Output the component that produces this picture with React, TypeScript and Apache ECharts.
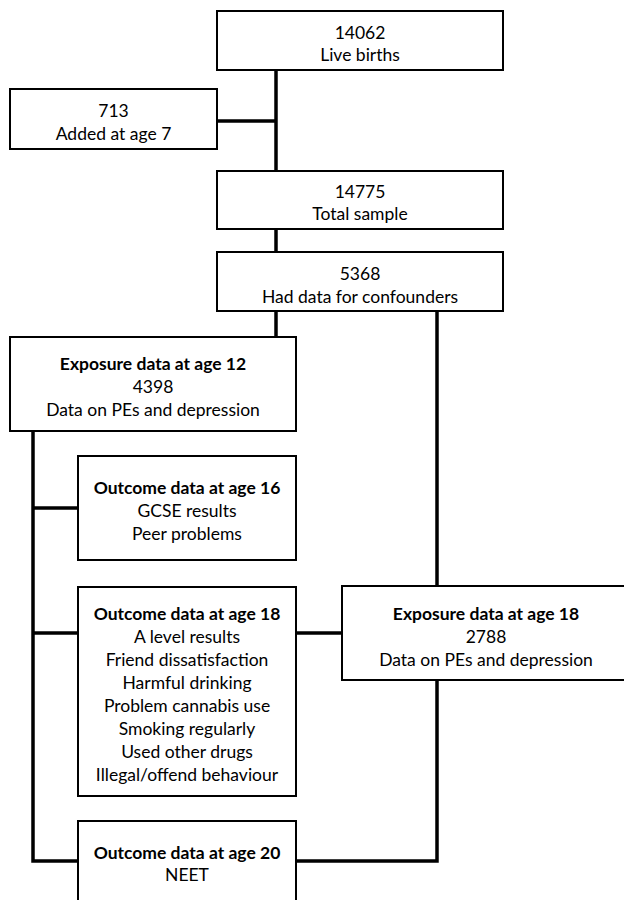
import React, { useEffect, useRef } from "react";
import * as echarts from "echarts";

// ---- data ----
const liveBirths = 14062;
const addedAge7 = 713;
const totalSample = 14775;
const confounders = 5368;
const exposure12 = 4398;
const exposure18 = 2788;

const boxATexts = [String(liveBirths), "Live births"];
const boxBTexts = [String(addedAge7), "Added at age 7"];
const boxCTexts = [String(totalSample), "Total sample"];
const boxDTexts = [String(confounders), "Had data for confounders"];
const boxETexts = ["Exposure data at age 12", String(exposure12), "Data on PEs and depression"];
const boxFTexts = ["Outcome data at age 16", "GCSE results", "Peer problems"];
const boxGTexts = [
  "Outcome data at age 18",
  "A level results",
  "Friend dissatisfaction",
  "Harmful drinking",
  "Problem cannabis use",
  "Smoking regularly",
  "Used other drugs",
  "Illegal/offend behaviour",
];
const boxHTexts = ["Exposure data at age 18", String(exposure18), "Data on PEs and depression"];
const boxITexts = ["Outcome data at age 20", "NEET"];

// ---- layout (positions kept separately) ----
type Box = { x0: number; y0: number; x1: number; y1: number; firstY: number; step: number; boldFirst: boolean; texts: string[] };
const boxes: Box[] = [
  { x0: 217, y0: 11, x1: 503, y1: 70, firstY: 32, step: 22, boldFirst: false, texts: boxATexts },
  { x0: 10, y0: 89, x1: 217, y1: 149, firstY: 110, step: 23, boldFirst: false, texts: boxBTexts },
  { x0: 217, y0: 171, x1: 503, y1: 229, firstY: 191, step: 22, boldFirst: false, texts: boxCTexts },
  { x0: 217, y0: 252, x1: 503, y1: 311, firstY: 273, step: 23, boldFirst: false, texts: boxDTexts },
  { x0: 10, y0: 337, x1: 296, y1: 431, firstY: 363, step: 23, boldFirst: true, texts: boxETexts },
  { x0: 78, y0: 456, x1: 296, y1: 560, firstY: 487, step: 23, boldFirst: true, texts: boxFTexts },
  { x0: 78, y0: 587, x1: 296, y1: 796, firstY: 613, step: 23, boldFirst: true, texts: boxGTexts },
  { x0: 342, y0: 586, x1: 630, y1: 680, firstY: 613, step: 23, boldFirst: true, texts: boxHTexts },
  { x0: 78, y0: 821, x1: 296, y1: 915, firstY: 852, step: 22, boldFirst: true, texts: boxITexts },
];

const connectors: number[][][] = [
  [[276, 70], [276, 171]],
  [[217, 121], [276, 121]],
  [[276, 229], [276, 252]],
  [[276, 311], [276, 337]],
  [[437, 311], [437, 586]],
  [[33, 431], [33, 861], [78, 861]],
  [[33, 508], [78, 508]],
  [[33, 633], [78, 633]],
  [[296, 633], [342, 633]],
  [[437, 680], [437, 861], [296, 861]],
];

const FONT = "Lato, 'Open Sans', 'Noto Sans', sans-serif";
const FONT_SIZE = 17.5;

export default function App() {
  const ref = useRef<HTMLDivElement>(null);
  useEffect(() => {
    if (!ref.current) return;
    const chart = echarts.init(ref.current, undefined, { renderer: "svg" });
    const elements: any[] = [];
    connectors.forEach((pts) => {
      elements.push({
        type: "polyline",
        shape: { points: pts },
        style: { stroke: "#000", lineWidth: 3.5, fill: null, lineJoin: "miter" },
        z: 1,
      });
    });
    boxes.forEach((b) => {
      elements.push({
        type: "rect",
        shape: { x: b.x0, y: b.y0, width: b.x1 - b.x0, height: b.y1 - b.y0 },
        style: { fill: "#fff", stroke: "#000", lineWidth: 2 },
        z: 2,
      });
      const cx = (b.x0 + Math.min(b.x1, 630)) / 2;
      b.texts.forEach((t, i) => {
        elements.push({
          type: "text",
          x: cx,
          y: b.firstY + i * b.step,
          style: {
            text: t,
            fill: "#000",
            fontFamily: FONT,
            fontSize: FONT_SIZE,
            fontWeight: b.boldFirst && i === 0 ? "bold" : "normal",
            align: "center",
            verticalAlign: "middle",
          },
          z: 3,
        });
      });
    });
    chart.setOption({
      animation: false,
      backgroundColor: "#fff",
      graphic: { elements },
    });
    return () => chart.dispose();
  }, []);
  return (
    <div
      ref={ref}
      style={{ position: "fixed", left: 0, top: 0, width: 624, height: 900, background: "#fff" }}
    />
  );
}
